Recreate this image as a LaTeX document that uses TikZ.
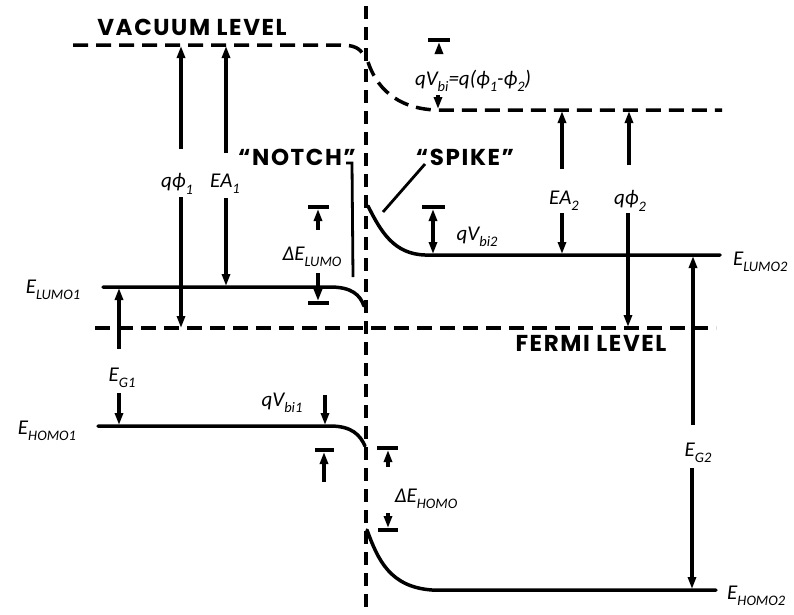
\documentclass[tikz,border=0pt]{standalone}
\usepackage{fontspec}
\setmainfont{Carlito}
\newfontfamily\capsfont[LetterSpace=7]{Poppins}
\usetikzlibrary{arrows.meta}
\newcommand{\sbs}[1]{\raisebox{-0.3em}{\fontsize{14.5}{14.5}\selectfont #1}}
\tikzset{
  lab/.style={font=\fontsize{21}{21}\selectfont\itshape, inner sep=0pt},
  caps/.style={font=\capsfont\bfseries\fontsize{23}{23}\selectfont, inner sep=0pt},
  level/.style={line width=3.5pt, line cap=round},
  dlevel/.style={line width=3.5pt, dash pattern=on 15pt off 8pt},
  junction/.style={line width=3.3pt, dash pattern=on 13pt off 8pt},
  arr/.style={line width=3.1pt, -{Triangle[length=12pt,width=8pt]}},
  darr/.style={line width=3.1pt, {Triangle[length=12pt,width=8pt]}-{Triangle[length=12pt,width=8pt]}},
  tbar/.style={line width=3.5pt},
  lead/.style={line width=2.8pt}
}
\begin{document}
\begin{tikzpicture}[x=1pt,y=-1pt]
\useasboundingbox (0,0) rectangle (794,614);
% ---------- junction
\coordinate (jt) at (366,6);
\coordinate (jb) at (366,614);
\draw[junction] (jt) -- (jb);
% ---------- vacuum level
\coordinate (v1a) at (73,45);
\coordinate (v1b) at (340,45);
\coordinate (v1c) at (364,56);
\draw[dlevel] (v1a) -- (v1b) .. controls (354,45) and (360,48) .. (v1c);
\coordinate (v2a) at (368,62);
\coordinate (v2b) at (435,110);
\coordinate (v2c) at (722,110);
\draw[dlevel] (v2a) .. controls (376,86) and (395,108) .. (v2b) -- (v2c);
% ---------- fermi level
\coordinate (fa) at (95,328);
\coordinate (fb) at (716,328);
\draw[dlevel] (fa) -- (fb);
% ---------- LUMO / HOMO
\coordinate (l1a) at (103,287);
\coordinate (l1b) at (330,287);
\coordinate (l1c) at (364,306);
\draw[level] (l1a) -- (l1b) .. controls (352,287) and (360,295) .. (l1c);
\coordinate (h1a) at (98,426);
\coordinate (h1b) at (330,426);
\coordinate (h1c) at (365,446);
\draw[level] (h1a) -- (h1b) .. controls (352,426) and (360,435) .. (h1c);
\coordinate (l2a) at (368,206);
\coordinate (l2b) at (425,255);
\coordinate (l2c) at (720,255);
\draw[level] (l2a) .. controls (381,232) and (394,254) .. (l2b) -- (l2c);
\coordinate (h2a) at (367,530);
\coordinate (h2b) at (432,590);
\coordinate (h2c) at (716,590);
\draw[level] (h2a) .. controls (378,560) and (390,587) .. (h2b) -- (h2c);
% ---------- texts
\node[caps] (vac) at (192,27) {VACUUM LEVEL};
\node[caps] (fermi) at (591,343) {FERMI LEVEL};
\node[caps] (notch) at (297,157) {“NOTCH”};
\node[caps] (spike) at (465,157) {“SPIKE”};
\node[lab] (qphi1) at (177,184) {qϕ\sbs{1}};
\node[lab] (ea1) at (225,184) {EA\sbs{1}};
\node[lab] (dlumo) at (312,257) {ΔE\sbs{LUMO}};
\node[lab] (elumo1) at (53,290) {E\sbs{LUMO1}};
\node[lab] (eg1) at (122,378) {E\sbs{G1}};
\node[lab] (ehomo1) at (47,431) {E\sbs{HOMO1}};
\node[lab] (qvbi1) at (282,403) {qV\sbs{bi1}};
\node[lab] (qvbi) at (473,81) {qV\sbs{bi}=q(ϕ\sbs{1}-ϕ\sbs{2})};
\node[lab] (qvbi2) at (477,237) {qV\sbs{bi2}};
\node[lab] (ea2) at (564,201) {EA\sbs{2}};
\node[lab] (qphi2) at (630,201) {qϕ\sbs{2}};
\node[lab,anchor=west] (elumo2) at (733,262) {E\sbs{LUMO2}};
\node[lab] (eg2) at (698,453) {E\sbs{G2}};
\node[lab] (dhomo) at (426,499) {ΔE\sbs{HOMO}};
\node[lab,anchor=west] (ehomo2) at (727,596) {E\sbs{HOMO2}};
% ---------- leader lines
\coordinate (n1) at (346,163);
\coordinate (n2) at (352,163);
\coordinate (n3) at (353,277);
\draw[lead] (n1) -- (n2) -- (n3);
\coordinate (s1) at (383,212);
\coordinate (s2) at (425,164);
\draw[lead] (s1) -- (s2);
% ---------- q phi 1
\coordinate (a1) at (181,149); \coordinate (a2) at (181,46);
\draw[arr] (a1) -- (a2);
\coordinate (a3) at (181,197); \coordinate (a4) at (181,328);
\draw[arr] (a3) -- (a4);
% ---------- EA1
\coordinate (b1) at (226,153); \coordinate (b2) at (226,46);
\draw[arr] (b1) -- (b2);
\coordinate (b3) at (226,198); \coordinate (b4) at (226,286);
\draw[arr] (b3) -- (b4);
% ---------- EG1
\coordinate (c1) at (119,349); \coordinate (c2) at (119,288);
\draw[arr] (c1) -- (c2);
\coordinate (c3) at (119,393); \coordinate (c4) at (119,425);
\draw[arr] (c3) -- (c4);
% ---------- Delta E LUMO
\coordinate (d1) at (308,207); \coordinate (d2) at (329,207);
\draw[tbar] (d1) -- (d2);
\coordinate (d3) at (318,230); \coordinate (d4) at (318,209);
\draw[arr] (d3) -- (d4);
\coordinate (d5) at (308,303); \coordinate (d6) at (329,303);
\draw[tbar] (d5) -- (d6);
\coordinate (d7) at (318,273); \coordinate (d8) at (318,301);
\draw[arr] (d7) -- (d8);
% ---------- qVbi1
\coordinate (e1) at (325,395); \coordinate (e2) at (325,425);
\draw[arr] (e1) -- (e2);
\coordinate (e3) at (315,450); \coordinate (e4) at (334,450);
\draw[tbar] (e3) -- (e4);
\coordinate (e5) at (324,482); \coordinate (e6) at (324,452);
\draw[arr] (e5) -- (e6);
% ---------- Delta E HOMO
\coordinate (f1) at (377,448); \coordinate (f2) at (398,448);
\draw[tbar] (f1) -- (f2);
\coordinate (f3) at (388,467); \coordinate (f4) at (388,450);
\draw[arr] (f3) -- (f4);
\coordinate (f5) at (378,530); \coordinate (f6) at (398,530);
\draw[tbar] (f5) -- (f6);
\coordinate (f7) at (388,513); \coordinate (f8) at (388,528);
\draw[arr] (f7) -- (f8);
% ---------- qVbi (vacuum)
\coordinate (g1) at (428,40); \coordinate (g2) at (450,40);
\draw[tbar] (g1) -- (g2);
\coordinate (g3) at (439,54); \coordinate (g4) at (439,42);
\draw[arr] (g3) -- (g4);
\coordinate (g5) at (438,95); \coordinate (g6) at (438,109);
\draw[arr] (g5) -- (g6);
% ---------- qVbi2
\coordinate (h1) at (422,207); \coordinate (h2) at (445,207);
\draw[tbar] (h1) -- (h2);
\coordinate (h3) at (433,209); \coordinate (h4) at (433,254);
\draw[darr] (h3) -- (h4);
% ---------- EA2
\coordinate (i1) at (562,169); \coordinate (i2) at (562,111);
\draw[arr] (i1) -- (i2);
\coordinate (i3) at (562,213); \coordinate (i4) at (562,254);
\draw[arr] (i3) -- (i4);
% ---------- q phi 2
\coordinate (j1) at (629,165); \coordinate (j2) at (629,111);
\draw[arr] (j1) -- (j2);
\coordinate (j3) at (628,213); \coordinate (j4) at (628,327);
\draw[arr] (j3) -- (j4);
% ---------- EG2
\coordinate (k1) at (693,425); \coordinate (k2) at (693,256);
\draw[arr] (k1) -- (k2);
\coordinate (k3) at (692,468); \coordinate (k4) at (692,589);
\draw[arr] (k3) -- (k4);
\end{tikzpicture}
\end{document}
